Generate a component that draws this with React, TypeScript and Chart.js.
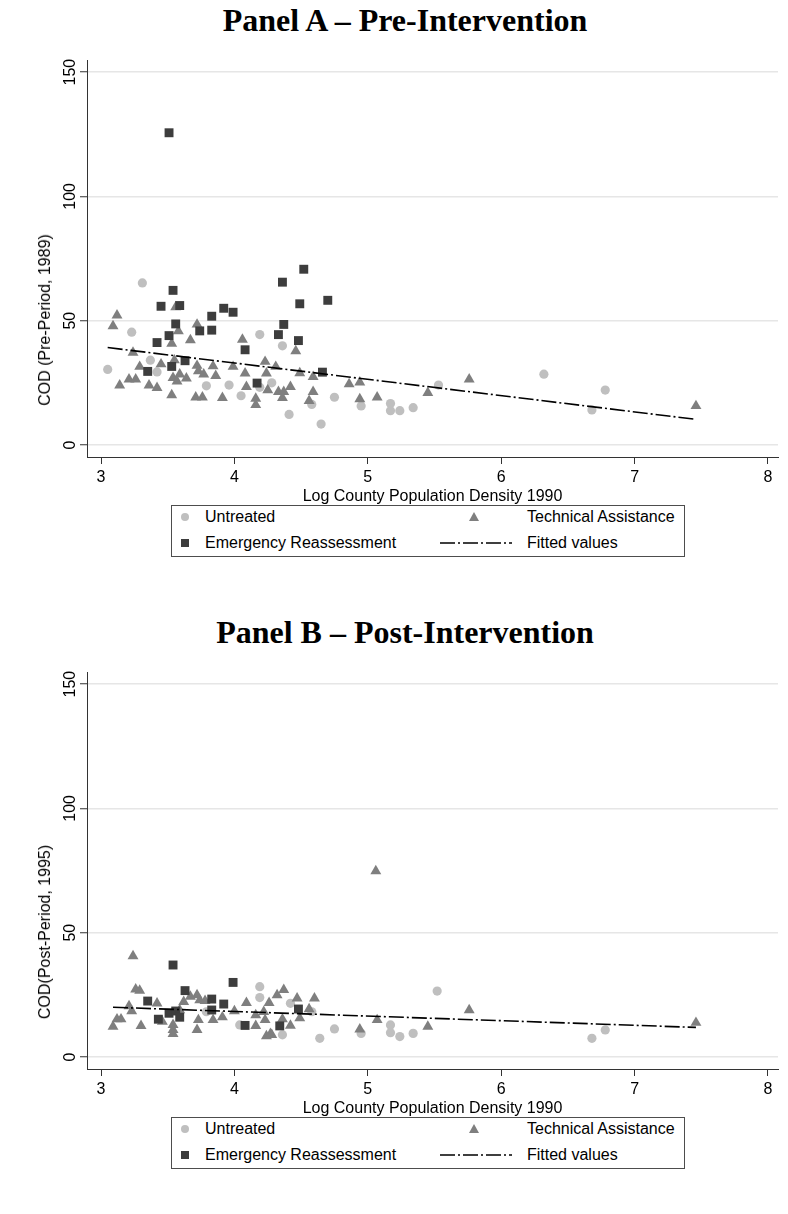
import React, { useEffect, useRef } from "react";
import { Chart, registerables } from "chart.js";

Chart.register(...registerables);

// ---------------- Data ----------------
const xTickValues = [3, 4, 5, 6, 7, 8];
const yTickValues = [0, 50, 100, 150];

// Panel A – Pre-Intervention (COD 1989)
const preUntreatedX = [3.05, 3.31, 3.23, 3.37, 3.42, 3.79, 3.96, 4.05, 4.19, 4.19, 4.36, 4.28, 4.41, 4.58, 4.65, 4.75, 4.95, 5.17, 5.17, 5.24, 5.34, 5.53, 6.32, 6.68, 6.78];
const preUntreatedY = [30.4, 65.2, 45.4, 34.1, 29.4, 23.8, 24.1, 19.8, 44.4, 23.2, 39.9, 25.0, 12.3, 16.3, 8.4, 19.2, 15.7, 16.7, 13.8, 13.8, 15.0, 24.1, 28.5, 14.1, 22.1];

const preTechX = [3.12, 3.09, 3.24, 3.56, 3.58, 3.53, 3.72, 3.67, 4.06, 3.29, 3.45, 3.55, 3.14, 3.21, 3.26, 3.36, 3.42, 3.53, 3.54, 3.57, 3.59, 3.64, 3.72, 3.73, 3.77, 3.84, 3.86, 3.71, 3.76, 3.91, 3.99, 4.08, 4.09, 4.16, 4.16, 4.23, 4.24, 4.31, 4.25, 4.33, 4.36, 4.46, 4.49, 4.59, 4.42, 4.37, 4.56, 4.59, 4.86, 4.94, 4.94, 5.07, 5.45, 5.76, 7.46];
const preTechY = [52.2, 47.8, 37.2, 55.5, 45.8, 40.8, 48.5, 42.2, 42.4, 31.5, 32.5, 34.1, 24.0, 26.4, 26.4, 24.0, 23.0, 20.1, 27.0, 25.6, 28.4, 26.8, 31.9, 29.7, 28.4, 31.7, 27.8, 19.2, 19.2, 19.0, 31.5, 28.8, 23.4, 18.7, 16.1, 33.5, 28.8, 31.5, 22.1, 21.4, 19.0, 37.8, 28.9, 27.4, 23.4, 21.4, 17.8, 21.4, 24.5, 25.2, 18.5, 19.2, 21.0, 26.4, 15.7];

const preEmergX = [3.51, 3.54, 3.45, 3.59, 3.83, 3.92, 3.99, 4.36, 4.37, 4.33, 3.56, 3.51, 3.74, 3.83, 3.42, 4.08, 3.63, 3.35, 3.53, 4.17, 4.52, 4.49, 4.70, 4.48, 4.66];
const preEmergY = [125.6, 62.2, 55.8, 56.1, 51.8, 55.0, 53.4, 65.5, 48.5, 44.4, 48.7, 44.0, 45.9, 46.2, 41.2, 38.3, 33.9, 29.6, 31.6, 24.9, 70.7, 56.8, 58.2, 42.0, 29.3];

const preFitX = [3.05, 7.46];
const preFitY = [39.2, 10.3];

// Panel B – Post-Intervention (COD 1995)
const postUntreatedX = [4.19, 4.19, 3.79, 4.36, 4.04, 4.42, 4.58, 4.64, 4.75, 4.95, 5.17, 5.17, 5.24, 5.34, 5.52, 6.68, 6.78];
const postUntreatedY = [28.3, 23.9, 18.2, 8.9, 12.9, 21.6, 18.2, 7.5, 11.3, 9.5, 12.9, 9.8, 8.2, 9.5, 26.5, 7.5, 10.9];

const postTechX = [3.24, 3.26, 3.29, 3.21, 3.23, 3.12, 3.15, 3.09, 3.30, 3.42, 3.46, 3.54, 3.54, 3.54, 3.72, 3.67, 3.62, 3.59, 3.74, 3.78, 3.73, 3.72, 3.84, 3.91, 4.00, 4.09, 4.16, 4.16, 4.23, 4.26, 4.24, 4.27, 4.22, 4.32, 4.37, 4.36, 4.47, 4.60, 4.56, 4.49, 4.42, 4.28, 4.94, 5.07, 5.45, 5.76, 7.46, 5.06];
const postTechY = [40.6, 27.2, 26.7, 20.5, 18.5, 15.2, 15.2, 12.2, 12.5, 21.6, 14.2, 12.9, 10.9, 9.3, 24.9, 24.3, 22.2, 18.9, 22.9, 22.6, 14.9, 10.9, 14.9, 16.0, 18.5, 21.8, 16.9, 12.5, 14.9, 21.8, 8.4, 9.3, 18.2, 24.9, 27.0, 15.2, 23.6, 23.6, 19.3, 15.6, 12.6, 8.9, 11.1, 14.9, 12.2, 18.9, 13.8, 74.8];

const postEmergX = [3.54, 3.99, 3.63, 3.35, 3.83, 3.92, 3.83, 3.43, 3.51, 3.56, 3.59, 4.08, 4.34, 4.48];
const postEmergY = [37.0, 30.0, 26.7, 22.5, 23.3, 21.3, 18.9, 15.2, 17.6, 18.5, 16.0, 12.7, 12.5, 19.3];

const postFitX = [3.09, 7.46];
const postFitY = [20.0, 11.9];

// ---------------- Styling / layout ----------------
const SANS = "'Liberation Sans', Arial, Helvetica, sans-serif";
const SERIF = "'Liberation Serif', 'Times New Roman', Times, serif";

const W = 788;
const CANVAS_TOP = 40;
const CANVAS_H = 470;
const PLOT_LEFT = 87;
const PLOT_RIGHT = 778;
const PLOT_TOP = 60;
const PLOT_BOTTOM = 457;
const X_MIN = 2.895;
const X_MAX = 8.075;
const Y_MIN = -4.83;
const Y_MAX = 154.87;

const C_UNTREATED = "#bfbfbf";
const C_TECH = "#7f7f7f";
const C_EMERG = "#3d3d3d";
const C_AXIS = "#333333";
const C_GRID = "#e6e6e6";

type Series = { x: number[]; y: number[] };

interface PanelProps {
  top: number;
  title: string;
  yTitle: string;
  untreated: Series;
  tech: Series;
  emerg: Series;
  fit: Series;
}

const pts = (s: Series) => s.x.map((x, i) => ({ x, y: s.y[i] }));

function Panel(p: PanelProps) {
  const ref = useRef<HTMLCanvasElement | null>(null);

  useEffect(() => {
    if (!ref.current) return;
    const tickFont = { family: SANS, size: 16 };
    const chart = new Chart(ref.current, {
      type: "scatter",
      data: {
        datasets: [
          {
            type: "line",
            label: "Fitted values",
            data: pts(p.fit),
            borderColor: "#000",
            borderWidth: 1.6,
            borderDash: [15, 3, 2, 3],
            pointRadius: 0,
            fill: false,
            order: 0,
          } as any,
          {
            label: "Emergency Reassessment",
            data: pts(p.emerg),
            pointStyle: "rect",
            pointRadius: 6.3,
            backgroundColor: C_EMERG,
            borderColor: C_EMERG,
            borderWidth: 0,
            order: 1,
          },
          {
            label: "Technical Assistance",
            data: pts(p.tech),
            pointStyle: "triangle",
            pointRadius: 6.3,
            backgroundColor: C_TECH,
            borderColor: C_TECH,
            borderWidth: 0,
            order: 2,
          },
          {
            label: "Untreated",
            data: pts(p.untreated),
            pointStyle: "circle",
            pointRadius: 4.6,
            backgroundColor: C_UNTREATED,
            borderColor: C_UNTREATED,
            borderWidth: 0,
            order: 3,
          },
        ],
      },
      options: {
        animation: false,
        responsive: false,
        maintainAspectRatio: false,
        devicePixelRatio: 1,
        layout: {
          padding: { left: 0, right: W - PLOT_RIGHT, top: PLOT_TOP - CANVAS_TOP, bottom: 0 },
        },
        plugins: {
          legend: { display: false },
          tooltip: { enabled: false },
          title: { display: false },
        },
        scales: {
          x: {
            type: "linear",
            position: "bottom",
            min: X_MIN,
            max: X_MAX,
            afterBuildTicks: (s: any) => {
              s.ticks = xTickValues.map((v) => ({ value: v }));
            },
            afterFit: (s: any) => {
              s.height = CANVAS_H - (PLOT_BOTTOM - CANVAS_TOP);
            },
            grid: {
              drawOnChartArea: false,
              drawTicks: true,
              tickLength: 7,
              tickColor: C_AXIS,
              tickWidth: 1,
              color: C_AXIS,
            },
            border: { display: true, color: C_AXIS, width: 1 },
            ticks: {
              font: tickFont,
              color: "#000",
              padding: 4,
              maxRotation: 0,
              minRotation: 0,
              autoSkip: false,
              callback: (v: any) => String(v),
            },
            title: {
              display: true,
              text: "Log County Population Density 1990",
              font: { family: SANS, size: 16 },
              color: "#000",
              padding: { top: 0, bottom: 4 },
            },
          },
          y: {
            type: "linear",
            position: "left",
            min: Y_MIN,
            max: Y_MAX,
            afterBuildTicks: (s: any) => {
              s.ticks = yTickValues.map((v) => ({ value: v }));
            },
            afterFit: (s: any) => {
              s.width = PLOT_LEFT;
            },
            grid: {
              drawOnChartArea: true,
              drawTicks: true,
              tickLength: 7,
              color: C_GRID,
              lineWidth: 1.5,
              tickColor: C_AXIS,
              tickWidth: 1,
            },
            border: { display: true, color: C_AXIS, width: 1 },
            ticks: {
              font: tickFont,
              color: "#000",
              minRotation: 90,
              maxRotation: 90,
              crossAlign: "center",
              padding: -4,
              autoSkip: false,
              callback: (v: any) => String(v),
            },
            title: { display: false },
          },
        },
      },
    });
    return () => chart.destroy();
  }, [p]);

  const legendText: React.CSSProperties = {
    position: "absolute",
    font: `16px ${SANS}`,
    color: "#000",
    whiteSpace: "nowrap",
    lineHeight: "18px",
    transform: "translateY(-50%)",
  };
  const row1 = 517;
  const row2 = 543;

  return (
    <div style={{ position: "absolute", left: 0, top: p.top, width: W, height: 600 }}>
      <div
        style={{
          position: "absolute",
          left: 405,
          top: 20,
          transform: "translate(-50%, -50%)",
          whiteSpace: "nowrap",
          font: `bold 32px ${SERIF}`,
          color: "#000",
          lineHeight: "36px",
        }}
      >
        {p.title}
      </div>
      <canvas
        ref={ref}
        width={W}
        height={CANVAS_H}
        style={{ position: "absolute", left: 0, top: CANVAS_TOP, width: W, height: CANVAS_H }}
      />
      <div
        style={{
          position: "absolute",
          left: 45,
          top: 320,
          transform: "translate(-50%, -50%) rotate(-90deg)",
          whiteSpace: "nowrap",
          font: `16px ${SANS}`,
          color: "#000",
          lineHeight: "18px",
        }}
      >
        {p.yTitle}
      </div>
      {/* Legend */}
      <div
        style={{
          position: "absolute",
          left: 171,
          top: 505,
          width: 514,
          height: 52,
          border: "1px solid #4d4d4d",
          boxSizing: "border-box",
          background: "#fff",
        }}
      />
      <div
        style={{
          position: "absolute",
          left: 185 - 4,
          top: row1 - 4,
          width: 8,
          height: 8,
          borderRadius: "50%",
          background: C_UNTREATED,
        }}
      />
      <div style={{ ...legendText, left: 205, top: row1 }}>Untreated</div>
      <div
        style={{
          position: "absolute",
          left: 474 - 5,
          top: row1 - 5,
          width: 0,
          height: 0,
          borderLeft: "5px solid transparent",
          borderRight: "5px solid transparent",
          borderBottom: `9px solid ${C_TECH}`,
        }}
      />
      <div style={{ ...legendText, left: 527, top: row1 }}>Technical Assistance</div>
      <div
        style={{
          position: "absolute",
          left: 185 - 4,
          top: row2 - 4,
          width: 8,
          height: 8,
          background: C_EMERG,
        }}
      />
      <div style={{ ...legendText, left: 205, top: row2 }}>Emergency Reassessment</div>
      <svg
        width={72}
        height={6}
        style={{ position: "absolute", left: 440, top: row2 - 3 }}
      >
        <line x1={0} y1={3} x2={72} y2={3} stroke="#000" strokeWidth={1.5} strokeDasharray="15 3 2 3" />
      </svg>
      <div style={{ ...legendText, left: 527, top: row2 }}>Fitted values</div>
    </div>
  );
}

const panelA: PanelProps = {
  top: 0,
  title: "Panel A – Pre-Intervention",
  yTitle: "COD (Pre-Period, 1989)",
  untreated: { x: preUntreatedX, y: preUntreatedY },
  tech: { x: preTechX, y: preTechY },
  emerg: { x: preEmergX, y: preEmergY },
  fit: { x: preFitX, y: preFitY },
};

const panelB: PanelProps = {
  top: 612,
  title: "Panel B – Post-Intervention",
  yTitle: "COD(Post-Period, 1995)",
  untreated: { x: postUntreatedX, y: postUntreatedY },
  tech: { x: postTechX, y: postTechY },
  emerg: { x: postEmergX, y: postEmergY },
  fit: { x: postFitX, y: postFitY },
};

export default function App() {
  return (
    <div
      style={{
        position: "absolute",
        left: 0,
        top: 0,
        width: W,
        height: 1214,
        background: "#fff",
        overflow: "hidden",
      }}
    >
      <Panel {...panelA} />
      <Panel {...panelB} />
    </div>
  );
}
